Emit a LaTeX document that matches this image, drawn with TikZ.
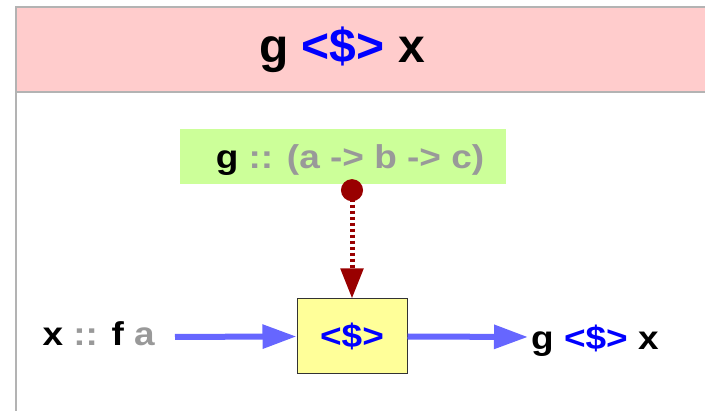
\documentclass[tikz,border=0pt]{standalone}
\usepackage{fontspec}
\setmainfont{Liberation Sans}
\newfontfamily\widesans{Liberation Sans}[FakeStretch=1.12]
\usetikzlibrary{arrows.meta}
\definecolor{headpink}{HTML}{FFCCCC}
\definecolor{framegray}{HTML}{B3B3B3}
\definecolor{typegreen}{HTML}{CCFF99}
\definecolor{typegray}{HTML}{999999}
\definecolor{opyellow}{HTML}{FFFF99}
\definecolor{boxborder}{HTML}{333333}
\definecolor{fmapblue}{HTML}{0000FF}
\definecolor{flowblue}{HTML}{6666FF}
\definecolor{argred}{HTML}{990000}
\newcommand{\fmapop}{\textcolor{fmapblue}{<\$>}}
\newcommand{\gry}[1]{\textcolor{typegray}{#1}}
\begin{document}
\begin{tikzpicture}[x=1pt,y=-1pt,
	lbl/.style={font=\widesans\bfseries\fontsize{33}{33}\selectfont,inner sep=0pt},
	typebox/.style={lbl,fill=typegreen,text height=40pt,text depth=15pt,minimum width=326pt},
	opbox/.style={lbl,draw=boxborder,line width=1pt,fill=opyellow,text height=49pt,text depth=26pt,minimum width=110pt},
	flow/.style={-{Triangle[length=34pt,width=23pt]},draw=flowblue,line width=6pt},
	argflow/.style={{Circle[length=22pt]}-{Triangle[length=30pt,width=22pt]},draw=argred,
		line width=5pt,dash pattern=on 3pt off 3pt}]
	\useasboundingbox (0,0) rectangle (705,411);
	% frame and title bar
	\filldraw[fill=headpink,draw=framegray,line width=1.5pt] (16,7) rectangle (720,92);
	\draw[framegray,line width=1.5pt] (16,92) -- (16,420);
	\node[font=\bfseries\fontsize{48}{48}\selectfont,inner sep=0pt,anchor=base] (head) at (342,63) {g \fmapop{} x};
	% nodes
	\node[typebox,anchor=base] (gtype) at (343,169) {\hspace*{14pt}g \gry{:: (a -> b -> c)}};
	\node[opbox,anchor=base] (op) at (352,348) {\fmapop};
	\node[lbl,anchor=base east,text height=24pt,text depth=6pt] (input) at (155,346) {x \gry{::} f \gry{a}};
	\node[lbl,anchor=base west,text height=30pt,text depth=4pt] (output) at (531,350) {g \fmapop{} x};
	% connectors
	\draw[argflow,shorten <=-5pt] (op.north |- gtype.south) -- (op.north);
	\draw[flow,shorten <=20pt] (input.east) -- (op.west);
	\draw[flow,shorten >=3pt] (op.east) -- (output.west);
\end{tikzpicture}
\end{document}
